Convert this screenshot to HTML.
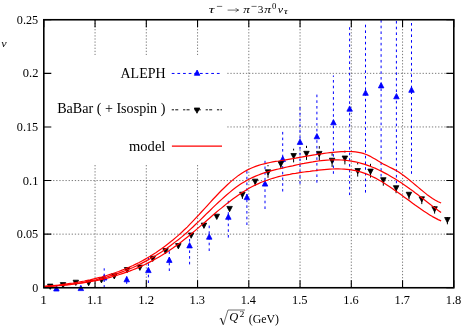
<!DOCTYPE html>
<html><head><meta charset="utf-8"><title>plot</title>
<style>
html,body{margin:0;padding:0;background:#fff;}
body{width:463px;height:327px;overflow:hidden;}
svg{display:block;will-change:transform;}
text{font-family:"Liberation Serif",serif;fill:#000;}
</style></head><body>
<svg width="463" height="327" viewBox="0 0 463 327">
<rect width="463" height="327" fill="#fff"/>
<defs><clipPath id="c"><rect x="43.8" y="19.75" width="410.00" height="268.00"/></clipPath></defs>

<g stroke="#333" stroke-width="0.65" stroke-dasharray="1.3 1.8" fill="none">
<path d="M95.05,19.75 V55 M95.05,165 V287.75"/>
<path d="M146.30,19.75 V55 M146.30,165 V287.75"/>
<path d="M197.55,19.75 V55 M197.55,165 V287.75"/>
<path d="M248.80,19.75 V287.75"/>
<path d="M300.05,19.75 V287.75"/>
<path d="M351.30,19.75 V287.75"/>
<path d="M402.55,19.75 V287.75"/>
<path d="M43.8,234.15 H453.8"/>
<path d="M43.8,180.55 H453.8"/>
<path d="M227.3,126.95 H453.8"/>
<path d="M227.3,73.35 H453.8"/>
</g>
<g stroke="#000" stroke-width="1.1" fill="none">
<path d="M43.80,287.75 v-7.5 M43.80,19.75 v7.5"/>
<path d="M95.05,287.75 v-7.5 M95.05,19.75 v7.5"/>
<path d="M146.30,287.75 v-7.5 M146.30,19.75 v7.5"/>
<path d="M197.55,287.75 v-7.5 M197.55,19.75 v7.5"/>
<path d="M248.80,287.75 v-7.5 M248.80,19.75 v7.5"/>
<path d="M300.05,287.75 v-7.5 M300.05,19.75 v7.5"/>
<path d="M351.30,287.75 v-7.5 M351.30,19.75 v7.5"/>
<path d="M402.55,287.75 v-7.5 M402.55,19.75 v7.5"/>
<path d="M453.80,287.75 v-7.5 M453.80,19.75 v7.5"/>
<path d="M43.8,287.75 h7.5 M453.8,287.75 h-7.5"/>
<path d="M43.8,234.15 h7.5 M453.8,234.15 h-7.5"/>
<path d="M43.8,180.55 h7.5 M453.8,180.55 h-7.5"/>
<path d="M43.8,126.95 h7.5 M453.8,126.95 h-7.5"/>
<path d="M43.8,73.35 h7.5 M453.8,73.35 h-7.5"/>
<path d="M43.8,19.75 h7.5 M453.8,19.75 h-7.5"/>
</g>
<g clip-path="url(#c)">
<g stroke="#0000ff" stroke-width="1.0" stroke-dasharray="2.6 3.1" fill="none">
<path d="M56.4,288.0 V287.0"/>
<path d="M80.8,288.0 V287.0"/>
<path d="M104.2,287.7 V268.3"/>
<path d="M126.7,283.9 V276.5"/>
<path d="M148.4,283.0 V257.7"/>
<path d="M169.3,271.0 V251.0"/>
<path d="M189.6,264.4 V231.4"/>
<path d="M209.2,251.0 V225.0"/>
<path d="M228.3,237.6 V200.0"/>
<path d="M246.9,225.0 V169.5"/>
<path d="M265.0,209.0 V158.8"/>
<path d="M282.7,191.5 V128.9"/>
<path d="M300.0,183.9 V105.1"/>
<path d="M316.9,182.7 V92.6"/>
<path d="M333.4,173.8 V75.5"/>
<path d="M349.6,195.1 V24.5"/>
<path d="M365.5,192.6 V23.6"/>
<path d="M381.1,176.5 V10.0"/>
<path d="M396.4,188.9 V10.0"/>
<path d="M411.5,173.8 V22.3"/>
</g></g><g fill="#0000ff" stroke="#0000ff" stroke-width="0.8" stroke-linejoin="round">
<path d="M56.41,285.72 L59.16,291.00 L53.66,291.00Z"/>
<path d="M80.85,285.32 L83.60,290.60 L78.10,290.60Z"/>
<path d="M104.24,274.72 L106.99,280.00 L101.49,280.00Z"/>
<path d="M126.72,276.52 L129.47,281.80 L123.97,281.80Z"/>
<path d="M148.38,267.32 L151.13,272.60 L145.63,272.60Z"/>
<path d="M169.31,257.12 L172.06,262.40 L166.56,262.40Z"/>
<path d="M189.57,242.62 L192.32,247.90 L186.82,247.90Z"/>
<path d="M209.22,233.92 L211.97,239.20 L206.47,239.20Z"/>
<path d="M228.33,214.02 L231.08,219.30 L225.58,219.30Z"/>
<path d="M246.92,194.32 L249.67,199.60 L244.17,199.60Z"/>
<path d="M265.04,180.82 L267.79,186.10 L262.29,186.10Z"/>
<path d="M282.72,156.12 L285.47,161.40 L279.97,161.40Z"/>
<path d="M300.00,139.12 L302.75,144.40 L297.25,144.40Z"/>
<path d="M316.90,133.52 L319.65,138.80 L314.15,138.80Z"/>
<path d="M333.44,119.52 L336.19,124.80 L330.69,124.80Z"/>
<path d="M349.65,105.92 L352.40,111.20 L346.90,111.20Z"/>
<path d="M365.54,90.02 L368.29,95.30 L362.79,95.30Z"/>
<path d="M381.14,82.62 L383.89,87.90 L378.39,87.90Z"/>
<path d="M396.45,93.52 L399.20,98.80 L393.70,98.80Z"/>
<path d="M411.50,87.02 L414.25,92.30 L408.75,92.30Z"/>
</g>
<g clip-path="url(#c)"><g stroke="#000" stroke-width="1.0" fill="none">
<path d="M242.4,195.0 V198.9"/>
<path d="M255.2,182.0 V185.8"/>
<path d="M268.0,165.0 V166.3"/>
<path d="M268.0,172.6 V177.8"/>
<path d="M280.8,164.4 V168.8"/>
<path d="M293.6,148.7 V150.5"/>
<path d="M293.6,156.3 V162.4"/>
<path d="M306.5,145.8 V148.0"/>
<path d="M306.5,154.1 V159.9"/>
<path d="M319.3,146.1 V148.7"/>
<path d="M319.3,154.2 V160.6"/>
<path d="M332.1,153.2 V155.7"/>
<path d="M332.1,161.0 V166.9"/>
<path d="M344.9,150.7 V152.5"/>
<path d="M344.9,158.8 V164.4"/>
<path d="M357.7,162.6 V164.4"/>
<path d="M357.7,171.3 V176.6"/>
<path d="M370.5,163.8 V166.9"/>
<path d="M370.5,171.9 V177.6"/>
<path d="M383.3,180.5 V185.7"/>
<path d="M396.1,188.5 V193.2"/>
<path d="M409.0,195.0 V199.4"/>
<path d="M421.8,199.6 V204.1"/>
<path d="M434.6,206.0 V213.6"/>
<path d="M447.4,217.0 V224.3"/>
</g></g><g fill="#000" stroke="#000" stroke-width="0.8" stroke-linejoin="round">
<path d="M50.21,289.38 L52.96,284.10 L47.46,284.10Z"/>
<path d="M63.02,287.88 L65.77,282.60 L60.27,282.60Z"/>
<path d="M75.83,285.48 L78.58,280.20 L73.08,280.20Z"/>
<path d="M88.64,285.78 L91.39,280.50 L85.89,280.50Z"/>
<path d="M101.46,282.88 L104.21,277.60 L98.71,277.60Z"/>
<path d="M114.27,278.98 L117.02,273.70 L111.52,273.70Z"/>
<path d="M127.08,272.78 L129.83,267.50 L124.33,267.50Z"/>
<path d="M139.89,270.38 L142.64,265.10 L137.14,265.10Z"/>
<path d="M152.71,261.48 L155.46,256.20 L149.96,256.20Z"/>
<path d="M165.52,253.88 L168.27,248.60 L162.77,248.60Z"/>
<path d="M178.33,248.88 L181.08,243.60 L175.58,243.60Z"/>
<path d="M191.14,238.28 L193.89,233.00 L188.39,233.00Z"/>
<path d="M203.96,228.38 L206.71,223.10 L201.21,223.10Z"/>
<path d="M216.77,219.48 L219.52,214.20 L214.02,214.20Z"/>
<path d="M229.58,211.68 L232.33,206.40 L226.83,206.40Z"/>
<path d="M242.39,197.48 L245.14,192.20 L239.64,192.20Z"/>
<path d="M255.21,184.43 L257.96,179.15 L252.46,179.15Z"/>
<path d="M268.02,175.08 L270.77,169.80 L265.27,169.80Z"/>
<path d="M280.83,166.88 L283.58,161.60 L278.08,161.60Z"/>
<path d="M293.64,158.78 L296.39,153.50 L290.89,153.50Z"/>
<path d="M306.46,156.58 L309.21,151.30 L303.71,151.30Z"/>
<path d="M319.27,156.68 L322.02,151.40 L316.52,151.40Z"/>
<path d="M332.08,163.48 L334.83,158.20 L329.33,158.20Z"/>
<path d="M344.89,161.28 L347.64,156.00 L342.14,156.00Z"/>
<path d="M357.71,173.78 L360.46,168.50 L354.96,168.50Z"/>
<path d="M370.52,174.38 L373.27,169.10 L367.77,169.10Z"/>
<path d="M383.33,182.98 L386.08,177.70 L380.58,177.70Z"/>
<path d="M396.14,190.98 L398.89,185.70 L393.39,185.70Z"/>
<path d="M408.96,197.53 L411.71,192.25 L406.21,192.25Z"/>
<path d="M421.77,202.08 L424.52,196.80 L419.02,196.80Z"/>
<path d="M434.58,211.98 L437.33,206.70 L431.83,206.70Z"/>
<path d="M447.39,222.78 L450.14,217.50 L444.64,217.50Z"/>
</g>
<g clip-path="url(#c)"><g stroke="#ff0000" stroke-width="1.2" fill="none" stroke-linejoin="round">
<path d="M44.5,286.6 L47.4,286.3 L50.2,286.0 L53.1,285.7 L55.9,285.3 L58.8,285.0 L61.6,284.6 L64.5,284.2 L67.3,283.8 L70.2,283.4 L73.0,283.0 L75.9,282.5 L78.7,282.0 L81.6,281.5 L84.4,281.0 L87.3,280.4 L90.2,279.8 L93.0,279.1 L95.9,278.4 L98.7,277.7 L101.6,277.0 L104.4,276.2 L107.3,275.3 L110.1,274.4 L113.0,273.5 L115.8,272.5 L118.7,271.5 L121.5,270.4 L124.4,269.3 L127.2,268.1 L130.1,266.8 L133.0,265.5 L135.8,264.1 L138.7,262.7 L141.5,261.2 L144.4,259.6 L147.2,258.0 L150.1,256.3 L152.9,254.5 L155.8,252.7 L158.6,250.8 L161.5,248.8 L164.3,246.7 L167.2,244.5 L170.0,242.3 L172.9,240.0 L175.7,237.6 L178.6,235.1 L181.5,232.5 L184.3,229.8 L187.2,227.1 L190.0,224.2 L192.9,221.2 L195.7,218.2 L198.6,215.2 L201.4,212.0 L204.3,208.9 L207.1,205.8 L210.0,202.6 L212.8,199.5 L215.7,196.5 L218.5,193.5 L221.4,190.5 L224.3,187.7 L227.1,185.0 L230.0,182.4 L232.8,179.9 L235.7,177.6 L238.5,175.4 L241.4,173.5 L244.2,171.7 L247.1,170.1 L249.9,168.7 L252.8,167.5 L255.6,166.4 L258.5,165.4 L261.3,164.5 L264.2,163.8 L267.1,163.1 L269.9,162.5 L272.8,161.9 L275.6,161.4 L278.5,161.0 L281.3,160.5 L284.2,160.1 L287.0,159.6 L289.9,159.1 L292.7,158.7 L295.6,158.2 L298.4,157.6 L301.3,157.1 L304.1,156.6 L307.0,156.1 L309.9,155.6 L312.7,155.1 L315.6,154.7 L318.4,154.2 L321.3,153.8 L324.1,153.4 L327.0,153.0 L329.8,152.6 L332.7,152.3 L335.5,152.1 L338.4,151.9 L341.2,151.7 L344.1,151.6 L346.9,151.5 L349.8,151.5 L352.6,151.6 L355.5,151.9 L358.4,152.3 L361.2,152.9 L364.1,153.7 L366.9,154.8 L369.8,156.1 L372.6,157.7 L375.5,159.3 L378.3,161.1 L381.2,162.8 L384.0,164.4 L386.9,165.8 L389.7,167.2 L392.6,168.6 L395.4,170.1 L398.3,171.8 L401.2,173.7 L404.0,175.7 L406.9,177.9 L409.7,180.2 L412.6,182.6 L415.4,185.0 L418.3,187.4 L421.1,189.8 L424.0,192.1 L426.8,194.4 L429.7,196.5 L432.5,198.4 L435.4,200.2 L438.2,201.7 L441.1,203.0"/>
<path d="M44.5,286.4 L47.4,286.2 L50.2,286.1 L53.1,285.9 L55.9,285.7 L58.8,285.4 L61.6,285.2 L64.5,284.9 L67.3,284.6 L70.2,284.2 L73.0,283.9 L75.9,283.5 L78.7,283.0 L81.6,282.6 L84.4,282.1 L87.3,281.6 L90.2,281.0 L93.0,280.4 L95.9,279.8 L98.7,279.1 L101.6,278.4 L104.4,277.6 L107.3,276.8 L110.1,275.9 L113.0,275.1 L115.8,274.1 L118.7,273.1 L121.5,272.1 L124.4,271.0 L127.2,269.9 L130.1,268.7 L133.0,267.5 L135.8,266.2 L138.7,264.8 L141.5,263.4 L144.4,261.9 L147.2,260.4 L150.1,258.8 L152.9,257.2 L155.8,255.5 L158.6,253.7 L161.5,251.9 L164.3,250.0 L167.2,248.0 L170.0,245.9 L172.9,243.8 L175.7,241.6 L178.6,239.4 L181.5,237.1 L184.3,234.7 L187.2,232.2 L190.0,229.6 L192.9,227.0 L195.7,224.3 L198.6,221.6 L201.4,218.8 L204.3,216.0 L207.1,213.2 L210.0,210.5 L212.8,207.7 L215.7,204.9 L218.5,202.2 L221.4,199.6 L224.3,197.0 L227.1,194.5 L230.0,192.1 L232.8,189.8 L235.7,187.6 L238.5,185.6 L241.4,183.6 L244.2,181.9 L247.1,180.2 L249.9,178.8 L252.8,177.4 L255.6,176.1 L258.5,175.0 L261.3,173.9 L264.2,172.9 L267.1,172.0 L269.9,171.2 L272.8,170.4 L275.6,169.7 L278.5,169.0 L281.3,168.3 L284.2,167.7 L287.0,167.0 L289.9,166.4 L292.7,165.8 L295.6,165.1 L298.4,164.5 L301.3,163.9 L304.1,163.4 L307.0,162.8 L309.9,162.3 L312.7,161.9 L315.6,161.4 L318.4,161.0 L321.3,160.7 L324.1,160.4 L327.0,160.2 L329.8,160.0 L332.7,159.9 L335.5,159.9 L338.4,159.9 L341.2,160.0 L344.1,160.2 L346.9,160.5 L349.8,160.9 L352.6,161.3 L355.5,161.9 L358.4,162.5 L361.2,163.3 L364.1,164.1 L366.9,165.1 L369.8,166.1 L372.6,167.2 L375.5,168.4 L378.3,169.7 L381.2,171.1 L384.0,172.6 L386.9,174.1 L389.7,175.7 L392.6,177.4 L395.4,179.1 L398.3,180.9 L401.2,182.8 L404.0,184.7 L406.9,186.7 L409.7,188.8 L412.6,190.8 L415.4,193.0 L418.3,195.1 L421.1,197.3 L424.0,199.5 L426.8,201.7 L429.7,203.9 L432.5,206.1 L435.4,208.3 L438.2,210.4 L441.1,212.6"/>
<path d="M44.5,286.6 L47.4,286.4 L50.2,286.3 L53.1,286.1 L55.9,285.9 L58.8,285.6 L61.6,285.4 L64.5,285.1 L67.3,284.9 L70.2,284.6 L73.0,284.2 L75.9,283.9 L78.7,283.5 L81.6,283.1 L84.4,282.7 L87.3,282.2 L90.2,281.7 L93.0,281.2 L95.9,280.7 L98.7,280.1 L101.6,279.4 L104.4,278.8 L107.3,278.1 L110.1,277.3 L113.0,276.5 L115.8,275.7 L118.7,274.8 L121.5,273.9 L124.4,272.9 L127.2,271.9 L130.1,270.9 L133.0,269.7 L135.8,268.6 L138.7,267.4 L141.5,266.1 L144.4,264.8 L147.2,263.4 L150.1,261.9 L152.9,260.4 L155.8,258.8 L158.6,257.2 L161.5,255.5 L164.3,253.7 L167.2,251.9 L170.0,250.0 L172.9,248.1 L175.7,246.0 L178.6,243.9 L181.5,241.7 L184.3,239.5 L187.2,237.2 L190.0,234.9 L192.9,232.5 L195.7,230.1 L198.6,227.6 L201.4,225.1 L204.3,222.7 L207.1,220.2 L210.0,217.7 L212.8,215.3 L215.7,212.8 L218.5,210.4 L221.4,208.1 L224.3,205.7 L227.1,203.4 L230.0,201.2 L232.8,199.0 L235.7,196.9 L238.5,194.9 L241.4,193.0 L244.2,191.2 L247.1,189.4 L249.9,187.8 L252.8,186.3 L255.6,184.9 L258.5,183.6 L261.3,182.3 L264.2,181.2 L267.1,180.2 L269.9,179.2 L272.8,178.3 L275.6,177.5 L278.5,176.7 L281.3,176.0 L284.2,175.4 L287.0,174.8 L289.9,174.3 L292.7,173.7 L295.6,173.3 L298.4,172.8 L301.3,172.4 L304.1,172.0 L307.0,171.6 L309.9,171.3 L312.7,170.9 L315.6,170.6 L318.4,170.2 L321.3,169.9 L324.1,169.6 L327.0,169.4 L329.8,169.2 L332.7,169.0 L335.5,168.9 L338.4,168.9 L341.2,169.0 L344.1,169.1 L346.9,169.3 L349.8,169.7 L352.6,170.1 L355.5,170.7 L358.4,171.3 L361.2,172.1 L364.1,173.1 L366.9,174.1 L369.8,175.3 L372.6,176.7 L375.5,178.1 L378.3,179.7 L381.2,181.3 L384.0,183.0 L386.9,184.9 L389.7,186.7 L392.6,188.7 L395.4,190.7 L398.3,192.7 L401.2,194.8 L404.0,196.9 L406.9,199.0 L409.7,201.1 L412.6,203.2 L415.4,205.3 L418.3,207.3 L421.1,209.3 L424.0,211.3 L426.8,213.1 L429.7,214.9 L432.5,216.6 L435.4,218.1 L438.2,219.6 L441.1,220.9"/>
</g>
</g>
<rect x="43.8" y="19.75" width="410.0" height="268.0" fill="none" stroke="#000" stroke-width="1.6"/>
<g font-size="14px" text-anchor="end">
<text x="165.6" y="78.1" textLength="45.1" lengthAdjust="spacingAndGlyphs">ALEPH</text>
<text x="165.4" y="113.0" textLength="108.2" lengthAdjust="spacingAndGlyphs">BaBar ( + Isospin )</text>
<text x="165.4" y="150.8" textLength="36.4" lengthAdjust="spacingAndGlyphs">model</text>
</g>
<path d="M171.76,73.45 H221.5" stroke="#0000ff" stroke-width="1.0" stroke-dasharray="2.75 2.89" fill="none"/>
<g fill="#0000ff" stroke="#0000ff" stroke-width="0.8" stroke-linejoin="round"><path d="M197.10,70.02 L199.85,75.30 L194.35,75.30Z"/></g>
<path d="M171.76,109.8 H222" stroke="#000" stroke-width="0.95" stroke-dasharray="2.25 1.25 3 4.8" fill="none"/>
<g fill="#000" stroke="#000" stroke-width="0.8" stroke-linejoin="round"><path d="M197.00,113.28 L199.75,108.00 L194.25,108.00Z"/></g>
<path d="M171.9,146.2 H222" stroke="#ff0000" stroke-width="1.2" fill="none"/>
<text transform="translate(40.28,303.80) scale(1.122,1)" font-size="11.9px" fill="#111">1</text>
<text transform="translate(86.92,303.80) scale(1.070,1)" font-size="11.9px" fill="#111">1.1</text>
<text transform="translate(138.17,303.80) scale(1.065,1)" font-size="11.9px" fill="#111">1.2</text>
<text transform="translate(189.44,303.80) scale(1.050,1)" font-size="11.9px" fill="#111">1.3</text>
<text transform="translate(240.71,303.80) scale(1.028,1)" font-size="11.9px" fill="#111">1.4</text>
<text transform="translate(291.94,303.80) scale(1.050,1)" font-size="11.9px" fill="#111">1.5</text>
<text transform="translate(343.20,303.80) scale(1.041,1)" font-size="11.9px" fill="#111">1.6</text>
<text transform="translate(394.45,303.80) scale(1.040,1)" font-size="11.9px" fill="#111">1.7</text>
<text transform="translate(445.69,303.80) scale(1.049,1)" font-size="11.9px" fill="#111">1.8</text>
<text transform="translate(32.14,291.75) scale(1.011,1)" font-size="11.9px" fill="#111">0</text>
<text transform="translate(16.80,238.15) scale(1.026,1)" font-size="11.9px" fill="#111">0.05</text>
<text transform="translate(22.79,184.55) scale(1.053,1)" font-size="11.9px" fill="#111">0.1</text>
<text transform="translate(16.80,130.95) scale(1.026,1)" font-size="11.9px" fill="#111">0.15</text>
<text transform="translate(22.79,77.35) scale(1.048,1)" font-size="11.9px" fill="#111">0.2</text>
<text transform="translate(16.80,23.75) scale(1.026,1)" font-size="11.9px" fill="#111">0.25</text>
<text transform="translate(1.33,46.90) scale(1.119,1)" font-size="10.8px" font-style="italic" fill="#111">v</text>
<text transform="translate(208.85,12.50) scale(1.494,1)" font-size="10.6px" font-style="italic" fill="#111">τ</text>
<path d="M216.9,6.4 H222.2 M251.5,6.4 H256.6" stroke="#111" stroke-width="0.6" fill="none"/>
<path d="M227.6,10.1 H238.4 M235.6,8.0 Q236.6,9.7 238.7,10.1 Q236.6,10.5 235.6,12.2" stroke="#111" stroke-width="0.6" fill="none"/>
<text transform="translate(243.13,12.50) scale(1.237,1)" font-size="10.6px" font-style="italic" fill="#111">π</text>
<text transform="translate(257.76,12.50) scale(1.053,1)" font-size="10.8px" fill="#111">3</text>
<text transform="translate(264.13,12.50) scale(1.273,1)" font-size="10.6px" font-style="italic" fill="#111">π</text>
<text transform="translate(271.97,8.50) scale(1.196,1)" font-size="7.3px" fill="#111">0</text>
<text transform="translate(277.63,12.50) scale(1.140,1)" font-size="10.6px" font-style="italic" fill="#111">ν</text>
<text transform="translate(283.74,14.40) scale(1.505,1)" font-size="7.8px" font-style="italic" fill="#111">τ</text>
<path d="M219.6,319.0 L221.0,318.2" stroke="#111" stroke-width="0.6" fill="none"/>
<path d="M221.0,318.2 L223.2,324.4" stroke="#111" stroke-width="1.1" fill="none"/>
<path d="M223.25,325.0 L228.0,310.0 H245.0" stroke="#111" stroke-width="0.6" fill="none" stroke-linejoin="miter"/>
<text transform="translate(229.21,321.30) scale(1.016,1)" font-size="12.3px" font-style="italic" fill="#111">Q</text>
<text transform="translate(239.57,317.30) scale(1.216,1)" font-size="8.0px" fill="#111">2</text>
<text transform="translate(248.78,322.50) scale(0.877,1)" font-size="13.5px" fill="#111">(GeV)</text>
</svg></body></html>
